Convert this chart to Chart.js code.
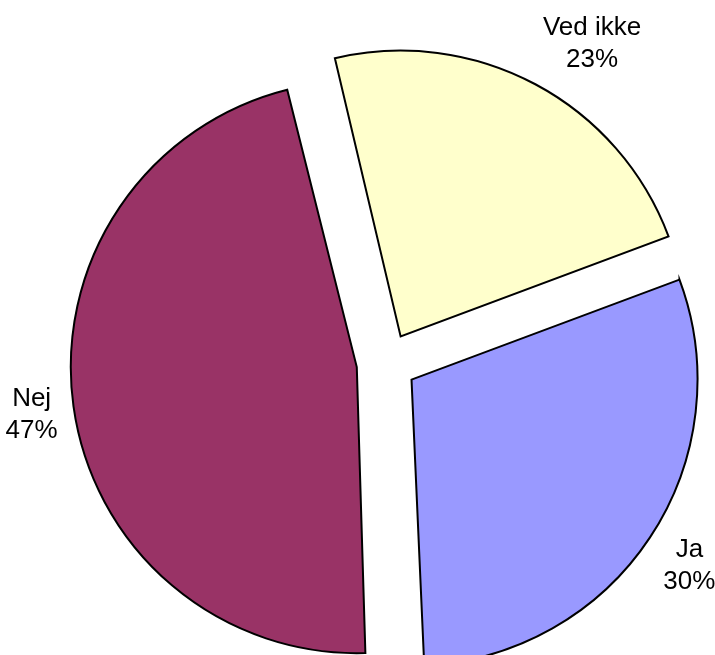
<!DOCTYPE html>
<html>
<head>
<meta charset="utf-8">
<script src="https://cdn.jsdelivr.net/npm/chart.js@4"></script>
<style>
    html, body { margin: 0; padding: 0; background: #ffffff; }
    #wrap { width: 715px; height: 655px; }
</style>
</head>
<body>
<div id="wrap"><canvas id="pieChart" width="715" height="655"></canvas></div>
<script>
// Data
const categories = ['Ja', 'Nej', 'Ved ikke'];
const shares = [30, 47, 23];
const sliceColors = ['#9999FF', '#993366', '#FFFFCC'];

// Exploded slices: Chart.js translates by offset / 4
const explode = 120;

// Keeps the exploded slices at the same radius (Chart.js grows wide arcs by offset)
const radiusFixPlugin = {
    id: 'radiusFix',
    afterDatasetsUpdate(chart) {
        const meta = chart.getDatasetMeta(0);
        const base = meta.controller.outerRadius;
        meta.data.forEach(arc => {
            const circ = arc.endAngle - arc.startAngle;
            const fix = 1 - Math.sin(Math.min(Math.PI, circ));
            arc.outerRadius = base - (explode / 4) * fix;
        });
    }
};

// Category name + percent outside each slice
const sliceLabelPlugin = {
    id: 'sliceLabels',
    afterDatasetsDraw(chart) {
        const ctx = chart.ctx;
        const meta = chart.getDatasetMeta(0);
        const lineH = 32;
        const gap = 16;
        ctx.save();
        ctx.font = '26px "Liberation Sans", Arial, sans-serif';
        ctx.fillStyle = '#000000';
        ctx.textAlign = 'center';
        ctx.textBaseline = 'middle';
        meta.data.forEach((arc, i) => {
            const mid = (arc.startAngle + arc.endAngle) / 2;
            const dx = Math.cos(mid), dy = Math.sin(mid);
            const r = meta.controller.outerRadius + explode / 4 + gap;
            const lines = [categories[i], shares[i] + '%'];
            const w = Math.max(...lines.map(t => ctx.measureText(t).width));
            const h = lines.length * lineH;
            const cx = arc.x + dx * r + Math.sign(dx) * w / 2;
            const cy = arc.y + dy * r + dy * h / 2 + 2;
            lines.forEach((t, k) => {
                ctx.fillText(t, cx, cy + (k - (lines.length - 1) / 2) * lineH);
            });
        });
        ctx.restore();
    }
};

const ctx = document.getElementById('pieChart').getContext('2d');
const pieChart = new Chart(ctx, {
    type: 'pie',
    data: {
        labels: categories,
        datasets: [{
            data: shares,
            backgroundColor: sliceColors,
            borderColor: '#000000',
            borderWidth: 2,
            borderJoinStyle: 'miter',
            offset: explode
        }]
    },
    options: {
        responsive: false,
        animation: false,
        rotation: 69.5,
        radius: 286,
        layout: {
            padding: { left: 58, top: 71, right: 0, bottom: 0 }
        },
        plugins: {
            legend: { display: false },
            tooltip: { enabled: false }
        }
    },
    plugins: [radiusFixPlugin, sliceLabelPlugin]
});
</script>
</body>
</html>
